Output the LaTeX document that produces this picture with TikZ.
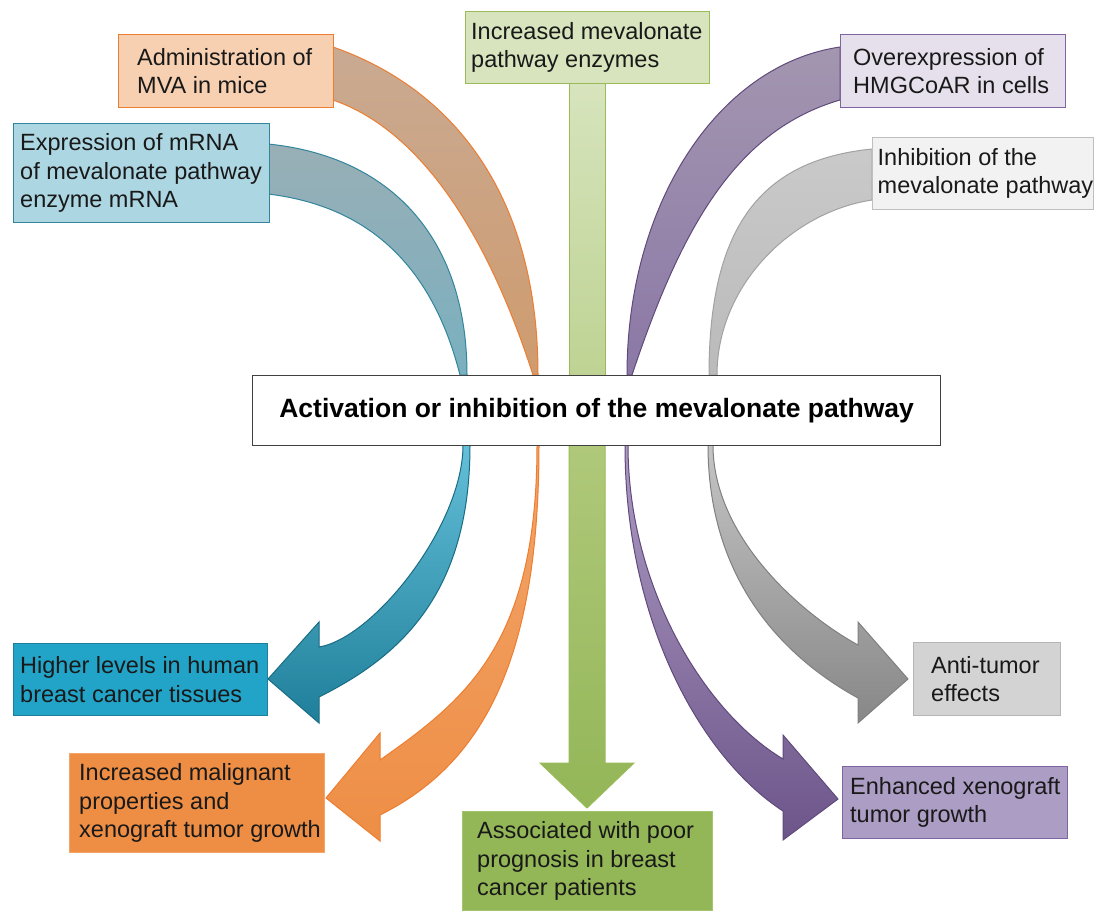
\documentclass[tikz,border=0pt]{standalone}
\usepackage{fontspec}
\setmainfont{Liberation Sans}
\definecolor{admF}{HTML}{F7D0B2}
\definecolor{orgD}{HTML}{ED7D31}
\definecolor{expF}{HTML}{ADD6E3}
\definecolor{tealD}{HTML}{31859C}
\definecolor{grnF}{HTML}{D7E4BD}
\definecolor{grnD}{HTML}{9BBB59}
\definecolor{purF}{HTML}{E6E0EC}
\definecolor{purD}{HTML}{8064A2}
\definecolor{purDD}{HTML}{604A7B}
\definecolor{gryF}{HTML}{F2F2F2}
\definecolor{gryD}{HTML}{BFBFBF}
\definecolor{ctrD}{HTML}{404040}
\definecolor{hiF}{HTML}{22A4C8}
\definecolor{hiD}{HTML}{1F7F9A}
\definecolor{malF}{HTML}{EE8E45}
\definecolor{malD}{HTML}{F5A56A}
\definecolor{asF}{HTML}{93B657}
\definecolor{asD}{HTML}{A5C46E}
\definecolor{antF}{HTML}{D3D3D3}
\definecolor{antD}{HTML}{B5B5B5}
\definecolor{enF}{HTML}{AB9DC3}
\definecolor{brT}{HTML}{C9AA92}
\definecolor{brB}{HTML}{CF9B6E}
\definecolor{puT}{HTML}{A396B0}
\definecolor{puB}{HTML}{8B78A6}
\begin{document}
\begin{tikzpicture}[x=1pt,y=-1pt,
  box/.style={draw, line width=1.3pt, anchor=north west, inner sep=0pt, rectangle},
  txt/.style={anchor=west, align=left, inner sep=0pt, font=\fontsize{23.5}{28.5}\selectfont, text=black!90},
  rib/.style={line width=1pt}]
\useasboundingbox[fill=white] (0,0) rectangle (1095,911);

% ---- upper ribbons ----
\coordinate (bA) at (333,47); \coordinate (bB) at (538,375);
\draw[rib, draw=orgD, top color=brT, bottom color=brB]
  (bA) .. controls (453,89) and (538,195) .. (bB) -- (533,375)
  .. controls (504,285) and (443,138) .. (333,100) -- cycle;
\coordinate (tA) at (268,144); \coordinate (tB) at (467,375);
\draw[rib, draw=tealD, top color=gray!45!expF, bottom color=tealD!65!white]
  (tA) .. controls (388,156) and (467,235) .. (tB) -- (460,375)
  .. controls (432,265) and (368,206) .. (268,194) -- cycle;
\coordinate (pA) at (840,47); \coordinate (pB) at (627,375);
\draw[rib, draw=purDD, top color=puT, bottom color=puB]
  (pA) .. controls (717,65) and (627,205) .. (pB) -- (632,375)
  .. controls (682,225) and (737,130) .. (840,100) -- cycle;
\coordinate (gA) at (872,149); \coordinate (gB) at (709,375);
\draw[rib, draw=gryD!85!black, top color=black!21, bottom color=black!27]
  (gA) .. controls (762,160) and (709,225) .. (gB) -- (717,375)
  .. controls (717,285) and (792,212) .. (872,200) -- cycle;
\draw[rib, draw=grnD, top color=grnF, bottom color=grnD!65!white]
  (569,83) rectangle (605,375);

% ---- lower arrows ----
\draw[rib, draw=hiD!85!black, top color=hiF!70!white, bottom color=hiD]
  (470,445) .. controls (470,595) and (399,657) .. (319,697) -- (319,723) -- (268,679)
  -- (319,622) -- (319,647) .. controls (374,638) and (463,525) .. (463,445) -- cycle;
\draw[rib, draw=orgD, top color=malF!80!white, bottom color=malF]
  (539,445) .. controls (539,665) and (480,765) .. (380,815) -- (380,841) -- (326,798)
  -- (380,733) -- (380,760) .. controls (465,700) and (537,645) .. (537,445) -- cycle;
\draw[rib, draw=grnD, top color=grnD!80!white, bottom color=asF]
  (569,445) -- (605,445) -- (605,763) -- (634,763) -- (587,808) -- (540,763) -- (569,763) -- cycle;
\draw[rib, draw=purDD, top color=purD!65!white, bottom color=purD!85!black]
  (625,445) .. controls (625,625) and (703,759) .. (783,811) -- (783,840) -- (838,799)
  -- (783,735) -- (783,759) .. controls (703,711) and (628,585) .. (628,445) -- cycle;
\draw[rib, draw=black!50, top color=black!23, bottom color=black!47]
  (708,445) .. controls (708,575) and (778,654) .. (858,698) -- (858,723) -- (908,679)
  -- (858,622) -- (858,645) .. controls (798,612) and (713,535) .. (713,445) -- cycle;

% ---- boxes ----
\node[box, minimum width=215pt, minimum height=73pt, fill=admF, draw=orgD] (adm) at (118,34) {};
\node[txt] (admT) at ([xshift=19pt]adm.west) {Administration of\\MVA in mice};
\node[box, minimum width=256pt, minimum height=99pt, fill=expF, draw=tealD] (expr) at (13,123) {};
\node[txt] (exprT) at ([xshift=7pt]expr.west) {Expression of mRNA\\of mevalonate pathway\\enzyme mRNA};
\node[box, minimum width=244pt, minimum height=72pt, fill=grnF, draw=grnD] (incr) at (465,11) {};
\node[txt] (incrT) at ([xshift=6pt]incr.west) {Increased mevalonate\\pathway enzymes};
\node[box, minimum width=225pt, minimum height=73pt, fill=purF, draw=purD] (hmg) at (840,34) {};
\node[txt] (hmgT) at ([xshift=13pt]hmg.west) {Overexpression of\\HMGCoAR in cells};
\node[box, minimum width=221pt, minimum height=72pt, fill=gryF, draw=gryD] (inh) at (872,137) {};
\node[txt] (inhT) at ([xshift=5.5pt]inh.west) {Inhibition of the\\mevalonate pathway};

\node[box, minimum width=688pt, minimum height=70pt, fill=white, draw=ctrD] (ctr) at (252,375) {};
\node[inner sep=0pt, font=\bfseries\fontsize{26.5}{30}\selectfont] (ctrT) at (ctr.center) {Activation or inhibition of the mevalonate pathway};

\node[box, minimum width=254pt, minimum height=72pt, fill=hiF, draw=hiD] (high) at (13,643) {};
\node[txt] (highT) at ([xshift=7pt]high.west) {Higher levels in human\\breast cancer tissues};
\node[box, minimum width=255pt, minimum height=99pt, fill=malF, draw=malD] (mal) at (69,753) {};
\node[txt] (malT) at ([xshift=10pt]mal.west) {Increased malignant\\properties and\\xenograft tumor growth};
\node[box, minimum width=250pt, minimum height=99pt, fill=asF, draw=asD] (assoc) at (462,811) {};
\node[txt] (assocT) at ([xshift=15pt]assoc.west) {Associated with poor\\prognosis in breast\\cancer patients};
\node[box, minimum width=147pt, minimum height=73pt, fill=antF, draw=antD] (anti) at (913,642) {};
\node[txt] (antiT) at ([xshift=18pt]anti.west) {Anti-tumor\\effects};
\node[box, minimum width=225pt, minimum height=72pt, fill=enF, draw=purD] (enh) at (842,766) {};
\node[txt] (enhT) at ([xshift=8pt]enh.west) {Enhanced xenograft\\tumor growth};
\end{tikzpicture}
\end{document}
